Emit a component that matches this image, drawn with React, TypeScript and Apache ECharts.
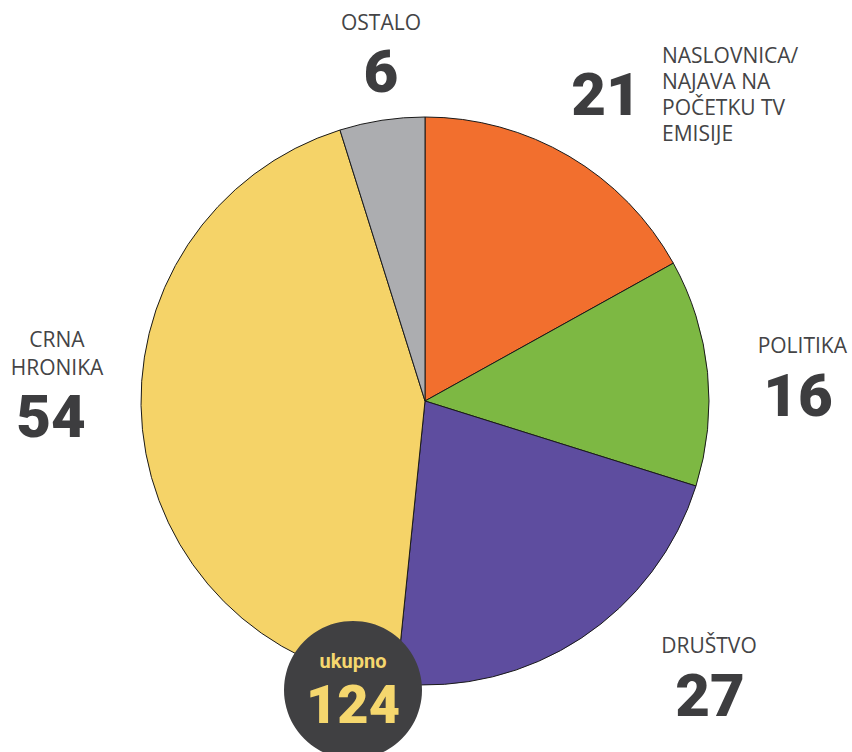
import React, { useEffect, useRef } from "react";
import * as echarts from "echarts";

const categories = ["NASLOVNICA/\nNAJAVA NA\nPOČETKU TV\nEMISIJE", "POLITIKA", "DRUŠTVO", "CRNA\nHRONIKA", "OSTALO"];
const values = [21, 16, 27, 54, 6];
const colors = ["#f26f2e", "#7db843", "#5e4d9f", "#f5d368", "#acadb0"];
const totalLabel = "ukupno";

export default function App() {
  const ref = useRef<HTMLDivElement>(null);
  useEffect(() => {
    document.body.style.margin = "0";
    const chart = echarts.init(ref.current!, null, { renderer: "svg" });
    const total = values.reduce((a, b) => a + b, 0);
    const labelFont = "'Open Sans', sans-serif";
    const numFont = "Roboto, sans-serif";
    const lblColor = "#444446";
    const numColor = "#3d3d3f";
    const lbl = (text: string, x: number, y: number, align: string, lh = 26) => ({
      type: "text",
      x,
      y,
      z: 100,
      style: { text, fill: lblColor, font: `400 21px ${labelFont}`, align, verticalAlign: "middle", lineHeight: lh },
    });
    const num = (text: string, x: number, y: number, align = "center", size = 60) => ({
      type: "text",
      x,
      y,
      z: 100,
      style: { text, fill: numColor, font: `900 ${size}px ${numFont}`, align, verticalAlign: "middle", lineHeight: Math.round(size * 0.74) },
    });
    chart.setOption({
      animation: false,
      series: [
        {
          type: "pie",
          center: [425, 401],
          radius: 284,
          startAngle: 90,
          clockwise: true,
          z: 1,
          label: { show: false },
          labelLine: { show: false },
          itemStyle: { borderColor: "#1a1a1a", borderWidth: 1 },
          emphasis: { disabled: true },
          data: categories.map((c, i) => ({ name: c, value: values[i], itemStyle: { color: colors[i] } })),
        },
      ],
      graphic: [
        lbl(categories[4], 381, 22, "center"),
        num(String(values[4]), 381, 71),
        num(String(values[0]), 606, 94),
        lbl(categories[0], 662, 94, "left"),
        lbl(categories[1], 847, 345, "right"),
        num(String(values[1]), 798, 395),
        lbl(categories[3], 57, 353, "center", 28),
        num(String(values[3]), 51, 416),
        lbl(categories[2], 709, 645, "center"),
        num(String(values[2]), 710, 695),
        { type: "circle", z: 100, shape: { cx: 353, cy: 690, r: 69 }, style: { fill: "#404042" } },
        {
          type: "text",
          x: 353,
          y: 661,
          z: 101,
          style: { text: totalLabel, fill: "#f5d76e", font: `700 20px ${numFont}`, align: "center", verticalAlign: "middle", lineHeight: 20 },
        },
        {
          type: "text",
          x: 353,
          y: 704,
          z: 101,
          style: { text: String(total), fill: "#f5d76e", font: `900 54px ${numFont}`, align: "center", verticalAlign: "middle", lineHeight: 40 },
        },
      ],
    });
    return () => chart.dispose();
  }, []);
  return <div ref={ref} style={{ width: 852, height: 752 }} />;
}
